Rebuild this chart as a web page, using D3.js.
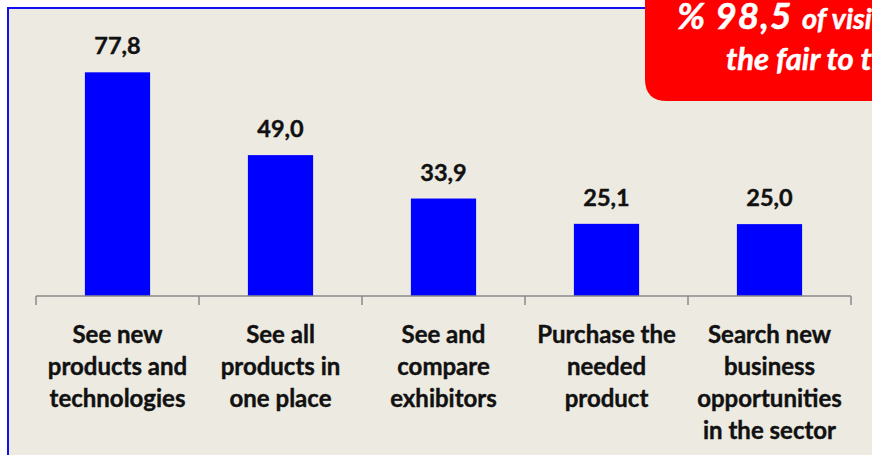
<!DOCTYPE html>
<html>
<head>
<meta charset="utf-8">
<script src="https://cdn.jsdelivr.net/npm/d3@7"></script>
<style>
  body { margin: 0; background: #fff; }
  svg { display: block; }
</style>
</head>
<body>
<svg width="872" height="455"></svg>
<script>
const categories = [
    ['See new', 'products and', 'technologies'],
    ['See all', 'products in', 'one place'],
    ['See and', 'compare', 'exhibitors'],
    ['Purchase the', 'needed', 'product'],
    ['Search new', 'business', 'opportunities', 'in the sector']
];
const values = [77.8, 49.0, 33.9, 25.1, 25.0];
const valueLabels = ['77,8', '49,0', '33,9', '25,1', '25,0'];
const calloutBig = '% 98,5';
const calloutLine1 = 'of visitors would recommend';
const calloutLine2 = 'the fair to their colleagues';

const svg = d3.select('svg');
const W = +svg.attr('width');
const H = +svg.attr('height');

// chart panel
svg.append('rect')
    .attr('x', 8).attr('y', 8)
    .attr('width', W).attr('height', H)
    .attr('fill', '#edeae1')
    .attr('stroke', '#1010f0')
    .attr('stroke-width', 2);

const xScale = d3.scaleBand()
    .domain(d3.range(categories.length))
    .range([36, 851]);

const yScale = d3.scaleLinear()
    .domain([0, 80])
    .range([296, 66]);

const barW = xScale.bandwidth() * 0.4;

// bars
svg.append('g')
    .selectAll('rect')
    .data(values)
    .enter()
    .append('rect')
    .attr('x', (d, i) => xScale(i) + (xScale.bandwidth() - barW) / 2)
    .attr('y', d => yScale(d))
    .attr('width', barW)
    .attr('height', d => yScale(0) - yScale(d))
    .attr('fill', '#0000ff');

// value labels
svg.append('g')
    .selectAll('text')
    .data(values)
    .enter()
    .append('text')
    .attr('x', (d, i) => xScale(i) + xScale.bandwidth() / 2)
    .attr('y', d => yScale(d) - 18)
    .attr('text-anchor', 'middle')
    .style('font-family', 'Lato, sans-serif')
    .style('font-weight', 'bold')
    .style('font-size', '23.5px')
    .style('fill', '#111')
    .style('stroke', '#111')
    .style('stroke-width', 0.4)
    .text((d, i) => valueLabels[i]);

// x axis
const axis = svg.append('g')
    .attr('transform', `translate(0,${yScale(0)})`);
axis.append('line')
    .attr('x1', xScale.range()[0]).attr('x2', xScale.range()[1])
    .attr('stroke', '#8a8a8a').attr('stroke-width', 1.5);
axis.selectAll('.tick')
    .data(d3.range(categories.length + 1))
    .enter()
    .append('line')
    .attr('x1', i => xScale.range()[0] + i * xScale.step())
    .attr('x2', i => xScale.range()[0] + i * xScale.step())
    .attr('y1', 0).attr('y2', 9)
    .attr('stroke', '#8a8a8a').attr('stroke-width', 1.5);

const catText = svg.append('g')
    .selectAll('text')
    .data(categories)
    .enter()
    .append('text')
    .attr('text-anchor', 'middle')
    .style('font-family', 'Lato, sans-serif')
    .style('font-weight', 'bold')
    .style('font-size', '24px')
    .style('fill', '#111')
    .style('stroke', '#111')
    .style('stroke-width', 0.4);

catText.selectAll('tspan')
    .data((d, i) => d.map(line => ({ line: line, i: i })))
    .enter()
    .append('tspan')
    .attr('x', d => xScale(d.i) + xScale.bandwidth() / 2)
    .attr('y', (d, j) => 343 + j * 32)
    .text(d => d.line);

// red callout
svg.append('path')
    .attr('d', `M645,0 H${W + 10} V101 H667 Q645,101 645,79 Z`)
    .attr('fill', '#ff0000');

const callout = svg.append('text')
    .attr('y', 29)
    .style('font-family', 'Lato, sans-serif')
    .style('font-weight', 'bold')
    .style('font-style', 'italic')
    .style('fill', '#fff')
    .style('stroke', '#fff')
    .style('stroke-width', 0.5);
callout.append('tspan')
    .attr('x', 677)
    .style('font-size', '37px')
    .style('letter-spacing', '1px')
    .text(calloutBig);
callout.append('tspan')
    .attr('x', 802)
    .style('font-size', '29px')
    .text(calloutLine1);

svg.append('text')
    .attr('x', 726).attr('y', 70)
    .style('font-family', 'Lato, sans-serif')
    .style('font-weight', 'bold')
    .style('font-style', 'italic')
    .style('font-size', '31px')
    .style('fill', '#fff')
    .style('stroke', '#fff')
    .style('stroke-width', 0.5)
    .text(calloutLine2);
</script>
</body>
</html>
